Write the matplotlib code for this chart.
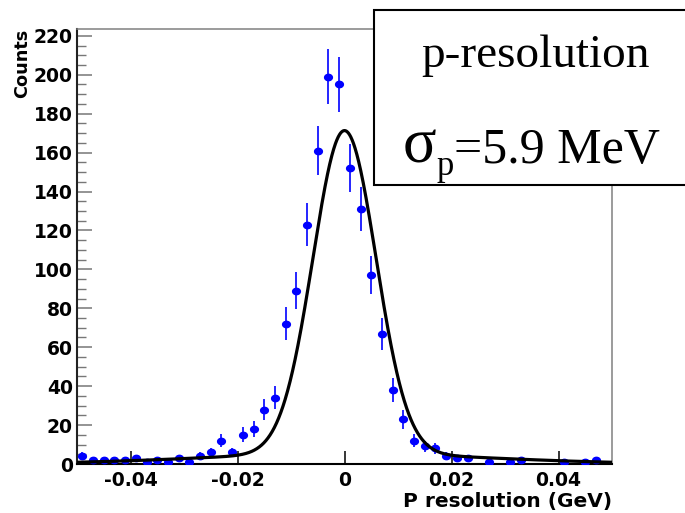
import numpy as np
import matplotlib
matplotlib.use("Agg")
import matplotlib.pyplot as plt
from matplotlib.patches import Rectangle
from matplotlib.path import Path
from matplotlib.transforms import Affine2D

# Histogram of momentum resolution: 50 bins from -0.05 to 0.05 GeV
bin_lo, bin_hi, n_bins = -0.05, 0.05, 50
counts = [4, 2, 2, 2, 2, 3, 1, 2, 1, 3,
          1, 4, 6, 12, 6, 15, 18, 28, 34, 72,
          89, 123, 161, 199, 195, 152, 131, 97, 67, 38,
          23, 12, 9, 8, 4, 3, 3, 0, 1, 0,
          1, 2, 0, 0, 0, 1, 0, 1, 2, 0]

# Fit: narrow Gaussian core plus a wide Gaussian tail
fit_amp, fit_mean, fit_sigma = 166.0, 0.0, 0.0059
tail_amp, tail_sigma = 5.3, 0.0265

x_ticks = [-0.04, -0.02, 0, 0.02, 0.04]
y_ticks = list(range(0, 221, 20))
x_title = "P resolution (GeV)"
y_title = "Counts"
box_title = "p-resolution"
sigma_sym, sigma_sub, sigma_rest = "σ", "p", "=5.9 MeV"

W, H = 685, 513
fig = plt.figure(figsize=(W / 100, H / 100), dpi=100)
ax = fig.add_axes([77 / W, 1 - 464 / H, (612 - 77) / W, (464 - 29) / H])

edges = np.linspace(bin_lo, bin_hi, n_bins + 1)
centers = 0.5 * (edges[:-1] + edges[1:])
y = np.array(counts, dtype=float)
filled = y > 0

# slightly wide oval marker
oval = Path.unit_circle().transformed(Affine2D().scale(1.22, 1.0))
ax.errorbar(centers[filled], y[filled], yerr=np.sqrt(y[filled]), fmt="none",
            ecolor="#0000ff", elinewidth=1.2, capsize=0, zorder=2)
ax.plot(centers[filled], y[filled], linestyle="none", marker=oval,
        markersize=5.6, color="#0000ff", zorder=3)

xf = np.linspace(bin_lo, bin_hi, 1500)
yf = (fit_amp * np.exp(-0.5 * ((xf - fit_mean) / fit_sigma) ** 2)
      + tail_amp * np.exp(-0.5 * ((xf - fit_mean) / tail_sigma) ** 2))
ax.plot(xf, yf, color="black", lw=2.3, zorder=4, solid_capstyle="round")

ax.set_xlim(bin_lo, bin_hi)
ax.set_ylim(0, 223.5)

ax.set_xticks(x_ticks)
ax.set_xticklabels([f"{v:g}" for v in x_ticks])
ax.set_yticks(y_ticks)
ax.set_yticks(np.arange(0, 224, 5), minor=True)
ax.tick_params(axis="x", direction="in", length=9.5, width=1.1, color="black",
               pad=5, labelsize=13.5)
ax.tick_params(axis="x", which="minor", length=0)
ax.tick_params(axis="y", which="major", direction="in", length=11, width=1.1,
               color="#777777", pad=3, labelsize=13.5)
ax.tick_params(axis="y", which="minor", direction="in", length=6.3, width=1.0,
               color="#777777")
for lab in ax.get_xticklabels() + ax.get_yticklabels():
    lab.set_fontweight("bold")
    lab.set_family("DejaVu Sans")

ax.spines["left"].set_linewidth(1.5)
ax.spines["left"].set_color("#222222")
ax.spines["bottom"].set_linewidth(1.5)
ax.spines["bottom"].set_color("black")
for s in ("top", "right"):
    ax.spines[s].set_linewidth(1.1)
    ax.spines[s].set_color("#808080")

fig.text(612 / W, 1 - 506.5 / H, x_title, ha="right", va="baseline",
         fontsize=14.5, fontweight="bold", family="DejaVu Sans")
fig.text(22 / W, 1 - 29 / H, y_title, ha="center", va="top", rotation=90,
         fontsize=12.7, fontweight="bold", family="DejaVu Sans")

# Label box in the upper right corner
box = Rectangle((374 / W, 1 - 185 / H), 1.0, (185 - 10) / H,
                transform=fig.transFigure, facecolor="white",
                edgecolor="black", lw=1.5, zorder=5, clip_on=False)
fig.patches.append(box)
serif = "Liberation Serif"
fig.text(535 / W, 1 - 67 / H, box_title, ha="center", va="baseline",
         fontsize=34, family=serif, zorder=6)
fig.text(403 / W, 1 - 163 / H, sigma_sym, ha="left", va="baseline",
         fontsize=45, family=serif, zorder=6)
fig.text(436 / W, 1 - 175 / H, sigma_sub, ha="left", va="baseline",
         fontsize=25, family=serif, zorder=6)
fig.text(454 / W, 1 - 163 / H, sigma_rest, ha="left", va="baseline",
         fontsize=36, family=serif, zorder=6)

fig.savefig("out.png", dpi=100)
